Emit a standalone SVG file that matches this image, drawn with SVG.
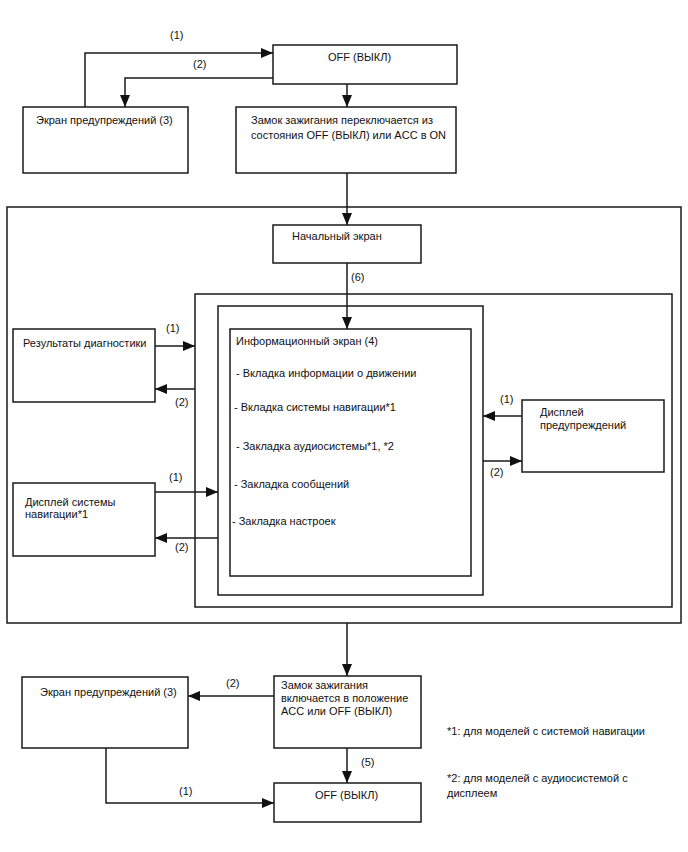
<svg xmlns="http://www.w3.org/2000/svg" width="688" height="852" viewBox="0 0 688 852">
<style>
.b{fill:#fff;stroke:#1a1a1a;stroke-width:1.5}
.f{fill:none;stroke:#1a1a1a;stroke-width:1.5}
.c{fill:none;stroke:#1a1a1a;stroke-width:1.5;marker-end:url(#ah)}
text{font-family:"Liberation Sans",Arial,sans-serif;font-size:11px;fill:#111}
</style>
<defs>
<marker id="ah" markerUnits="userSpaceOnUse" markerWidth="13" markerHeight="11" refX="12" refY="5" orient="auto">
<path d="M0,0 L12,5 L0,10 z" fill="#111"/>
</marker>
</defs>
<rect width="688" height="852" fill="#fff"/>
<g id="frame-outer"><rect class="f" x="7" y="207" width="674" height="416"/></g>
<g id="frame-mid"><rect class="f" x="195" y="294" width="477" height="313"/></g>
<g id="frame-inner"><rect class="f" x="218" y="306" width="265" height="289"/></g>
<g id="off-top"><rect class="b" x="273" y="45" width="184" height="39"/><text x="328" y="61">OFF (ВЫКЛ)</text></g>
<g id="warn-top"><rect class="b" x="23" y="107" width="165" height="66"/><text x="36" y="124">Экран предупреждений (3)</text></g>
<g id="ign-on"><rect class="b" x="236" y="107" width="220" height="66"/><text x="251" y="124">Замок зажигания переключается из</text><text x="251" y="139">состояния OFF (ВЫКЛ) или ACC в ON</text></g>
<g id="start"><rect class="b" x="273" y="225" width="148" height="38"/><text x="292" y="240">Начальный экран</text></g>
<g id="info"><rect class="b" x="230" y="329" width="241" height="247"/>
<text x="236" y="345">Информационный экран (4)</text>
<text x="236" y="377">- Вкладка информации о движении</text>
<text x="234" y="411">- Вкладка системы навигации*1</text>
<text x="236" y="450">- Закладка аудиосистемы*1, *2</text>
<text x="234" y="488">- Закладка сообщений</text>
<text x="232" y="525">- Закладка настроек</text></g>
<g id="diag"><rect class="b" x="13" y="329" width="142" height="73"/><text x="23" y="347">Результаты диагностики</text></g>
<g id="nav"><rect class="b" x="13" y="483" width="142" height="73"/><text x="25" y="506">Дисплей системы</text><text x="25" y="518">навигации*1</text></g>
<g id="warn-disp"><rect class="b" x="522" y="400" width="142" height="72"/><text x="540" y="416">Дисплей</text><text x="540" y="429">предупреждений</text></g>
<g id="ign-off"><rect class="b" x="274" y="676" width="147" height="72"/><text x="281" y="689">Замок зажигания</text><text x="281" y="702">включается в положение</text><text x="281" y="715">ACC или OFF (ВЫКЛ)</text></g>
<g id="warn-bottom"><rect class="b" x="22" y="677" width="166" height="71"/><text x="40" y="696">Экран предупреждений (3)</text></g>
<g id="off-bottom"><rect class="b" x="274" y="783" width="147" height="39"/><text x="315" y="799">OFF (ВЫКЛ)</text></g>
<g id="notes"><text x="447" y="735">*1: для моделей с системой навигации</text><text x="447" y="782">*2: для моделей с аудиосистемой с</text><text x="447" y="797">дисплеем</text></g>
<g id="connectors">
<path class="c" d="M85,107 V53 H273"/>
<path class="c" d="M273,78 H125 V107"/>
<path class="c" d="M347,84 V107"/>
<path class="c" d="M347,173 V225"/>
<path class="c" d="M347,263 V329"/>
<path class="c" d="M155,346 H195"/>
<path class="c" d="M195,389 H155"/>
<path class="c" d="M155,492 H218"/>
<path class="c" d="M218,538 H155"/>
<path class="c" d="M522,416 H483"/>
<path class="c" d="M483,461 H522"/>
<path class="c" d="M347,623 V676"/>
<path class="c" d="M274,696 H188"/>
<path class="c" d="M106,748 V803 H274"/>
<path class="c" d="M347,748 V783"/>
<text x="170" y="39">(1)</text>
<text x="193" y="68">(2)</text>
<text x="351" y="281">(6)</text>
<text x="166" y="332">(1)</text>
<text x="175" y="406">(2)</text>
<text x="169" y="481">(1)</text>
<text x="175" y="551">(2)</text>
<text x="500" y="403">(1)</text>
<text x="490" y="476">(2)</text>
<text x="226" y="687">(2)</text>
<text x="179" y="795">(1)</text>
<text x="361" y="766">(5)</text>
</g>
</svg>
